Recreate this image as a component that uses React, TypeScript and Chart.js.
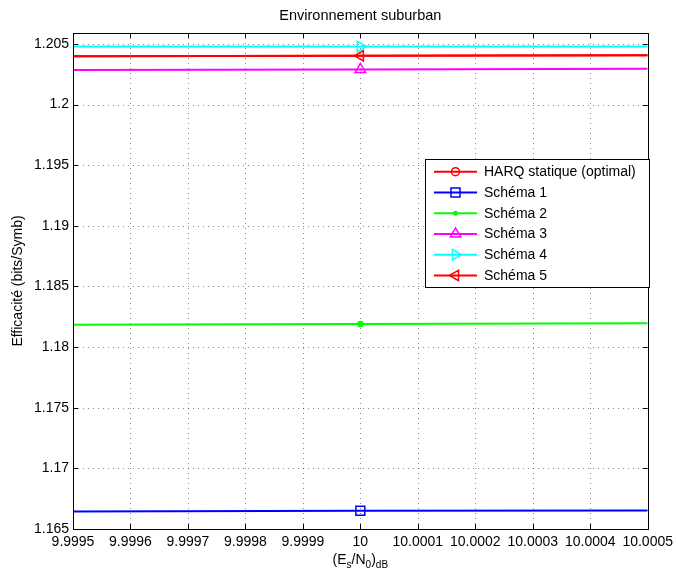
import React, { useEffect, useRef } from 'react';
import { Chart, registerables } from 'chart.js';

Chart.register(...registerables);

// ---- data ----
const xPoints = [9.9995, 10, 10.0005];
const xTicks = [9.9995, 9.9996, 9.9997, 9.9998, 9.9999, 10, 10.0001, 10.0002, 10.0003, 10.0004, 10.0005];
const xTickLabels = ['9.9995', '9.9996', '9.9997', '9.9998', '9.9999', '10', '10.0001', '10.0002', '10.0003', '10.0004', '10.0005'];
const yTicks = [1.165, 1.17, 1.175, 1.18, 1.185, 1.19, 1.195, 1.2, 1.205];
const yTickLabels = ['1.165', '1.17', '1.175', '1.18', '1.185', '1.19', '1.195', '1.2', '1.205'];

const harqStatique = [1.20398, 1.20402, 1.20406];
const schema1 = [1.16645, 1.1665, 1.16653];
const schema2 = [1.18185, 1.1819, 1.18196];
const schema3 = [1.20285, 1.2029, 1.20296];
const schema4 = [1.20478, 1.20478, 1.20479];
const schema5 = [1.20398, 1.20402, 1.20406];

const seriesNames = ['HARQ statique (optimal)', 'Schéma 1', 'Schéma 2', 'Schéma 3', 'Schéma 4', 'Schéma 5'];
const seriesColors = ['#ff0000', '#0000ff', '#00ff00', '#ff00ff', '#00ffff', '#ff0000'];
const seriesMarkers = ['circle', 'square', 'dot', 'triUp', 'triRight', 'triLeft'];
const seriesValues = [harqStatique, schema1, schema2, schema3, schema4, schema5];
const showMarkerInPlot = [false, true, true, true, true, true];

const titleText = 'Environnement suburban';
const yTitleText = 'Efficacité (bits/Symb)';

const FONT = '"Liberation Sans", Arial, Helvetica, sans-serif';

function drawMarker(ctx: CanvasRenderingContext2D, kind: string, x: number, y: number, color: string) {
  ctx.save();
  ctx.strokeStyle = color;
  ctx.fillStyle = color;
  ctx.lineWidth = 1.5;
  ctx.setLineDash([]);
  ctx.beginPath();
  if (kind === 'circle') {
    ctx.arc(x, y, 4, 0, Math.PI * 2);
    ctx.stroke();
  } else if (kind === 'square') {
    ctx.rect(x - 4.5, y - 4.5, 9, 9);
    ctx.stroke();
  } else if (kind === 'dot') {
    ctx.arc(x, y, 2.5, 0, Math.PI * 2);
    ctx.fill();
  } else {
    const r = 6;
    let rot = 0;
    if (kind === 'triRight') rot = Math.PI / 2;
    if (kind === 'triLeft') rot = -Math.PI / 2;
    for (let i = 0; i < 3; i++) {
      const a = rot + (i * 2 * Math.PI) / 3;
      const px = x + Math.sin(a) * r;
      const py = y - Math.cos(a) * r;
      if (i === 0) ctx.moveTo(px, py);
      else ctx.lineTo(px, py);
    }
    ctx.closePath();
    ctx.stroke();
  }
  ctx.restore();
}

const matlabPlugin = {
  id: 'matlabLook',
  beforeDraw(chart: any) {
    const ctx = chart.ctx;
    ctx.save();
    ctx.fillStyle = '#ffffff';
    ctx.fillRect(0, 0, chart.width, chart.height);
    ctx.restore();
  },
  beforeDatasetsDraw(chart: any) {
    const { ctx, chartArea: a, scales } = chart;
    const xs = scales.x;
    const ys = scales.y;
    ctx.save();
    ctx.strokeStyle = 'rgba(0,0,0,0.45)';
    ctx.lineWidth = 1;
    ctx.setLineDash([1, 4]);
    ctx.beginPath();
    xTicks.forEach((v) => {
      const px = Math.round(xs.getPixelForValue(v)) + 0.5;
      if (px < a.left + 2 || px > a.right - 2) return;
      ctx.moveTo(px, a.top);
      ctx.lineTo(px, a.bottom);
    });
    yTicks.forEach((v) => {
      const py = Math.round(ys.getPixelForValue(v)) + 0.5;
      if (py < a.top + 2 || py > a.bottom - 2) return;
      ctx.moveTo(a.left, py);
      ctx.lineTo(a.right, py);
    });
    ctx.stroke();
    ctx.restore();
  },
  afterDatasetsDraw(chart: any) {
    const { ctx, chartArea: a, scales } = chart;
    const xs = scales.x;
    const ys = scales.y;
    ctx.save();
    ctx.setLineDash([]);
    // tick marks (inside)
    ctx.strokeStyle = '#000';
    ctx.lineWidth = 1;
    ctx.beginPath();
    const tl = 5;
    xTicks.forEach((v) => {
      const px = Math.round(xs.getPixelForValue(v)) + 0.5;
      ctx.moveTo(px, a.bottom);
      ctx.lineTo(px, a.bottom - tl);
      ctx.moveTo(px, a.top);
      ctx.lineTo(px, a.top + tl);
    });
    yTicks.forEach((v) => {
      const py = Math.round(ys.getPixelForValue(v)) + 0.5;
      ctx.moveTo(a.left, py);
      ctx.lineTo(a.left + tl, py);
      ctx.moveTo(a.right, py);
      ctx.lineTo(a.right - tl, py);
    });
    ctx.stroke();
    // axes box
    ctx.lineWidth = 1;
    ctx.strokeRect(Math.round(a.left) + 0.5, Math.round(a.top) + 0.5, Math.round(a.right - a.left), Math.round(a.bottom - a.top));

    // title
    ctx.fillStyle = '#000';
    ctx.font = `14.5px ${FONT}`;
    ctx.textAlign = 'center';
    ctx.textBaseline = 'middle';
    ctx.fillText(titleText, (a.left + a.right) / 2, 16);

    // y title
    ctx.font = `14px ${FONT}`;
    ctx.save();
    ctx.translate(18, (a.top + a.bottom) / 2);
    ctx.rotate(-Math.PI / 2);
    ctx.textAlign = 'center';
    ctx.textBaseline = 'middle';
    ctx.fillText(yTitleText, 0, 0);
    ctx.restore();

    // x title with subscripts
    const parts = [
      { t: '(E', sub: false },
      { t: 's', sub: true },
      { t: '/N', sub: false },
      { t: '0', sub: true },
      { t: ')', sub: false },
      { t: 'dB', sub: true },
    ];
    const mainFont = `14px ${FONT}`;
    const subFont = `10px ${FONT}`;
    let total = 0;
    parts.forEach((p) => {
      ctx.font = p.sub ? subFont : mainFont;
      total += ctx.measureText(p.t).width;
    });
    let cx = (a.left + a.right) / 2 - total / 2;
    const baseline = 564;
    ctx.textAlign = 'left';
    ctx.textBaseline = 'alphabetic';
    parts.forEach((p) => {
      ctx.font = p.sub ? subFont : mainFont;
      ctx.fillText(p.t, cx, p.sub ? baseline + 4 : baseline);
      cx += ctx.measureText(p.t).width;
    });

    // legend
    const lx = 425.5;
    const ly = 159.5;
    const lw = 224;
    const lh = 128;
    ctx.fillStyle = '#fff';
    ctx.fillRect(lx, ly, lw, lh);
    ctx.strokeStyle = '#000';
    ctx.lineWidth = 1;
    ctx.strokeRect(lx, ly, lw, lh);
    ctx.font = `14px ${FONT}`;
    ctx.textBaseline = 'middle';
    ctx.textAlign = 'left';
    seriesNames.forEach((name, i) => {
      const ry = 171.7 + i * 20.75;
      ctx.strokeStyle = seriesColors[i];
      ctx.lineWidth = 2;
      ctx.beginPath();
      ctx.moveTo(434, ry);
      ctx.lineTo(477, ry);
      ctx.stroke();
      drawMarker(ctx, seriesMarkers[i], 455.5, ry, seriesColors[i]);
      ctx.fillStyle = '#000';
      ctx.fillText(name, 484, ry + 0.5);
    });
    ctx.restore();
  },
};

const pointStyleFor = (m: string) => {
  if (m === 'square') return { pointStyle: 'rect', rotation: 0, radius: 6.3 };
  if (m === 'dot') return { pointStyle: 'circle', rotation: 0, radius: 2.5 };
  if (m === 'triUp') return { pointStyle: 'triangle', rotation: 0, radius: 6 };
  if (m === 'triRight') return { pointStyle: 'triangle', rotation: 90, radius: 6 };
  if (m === 'triLeft') return { pointStyle: 'triangle', rotation: -90, radius: 6 };
  return { pointStyle: 'circle', rotation: 0, radius: 4 };
};

export default function App() {
  const canvasRef = useRef<HTMLCanvasElement | null>(null);

  useEffect(() => {
    if (!canvasRef.current) return;
    const datasets = seriesNames.map((name, i) => {
      const ps = pointStyleFor(seriesMarkers[i]);
      const filled = seriesMarkers[i] === 'dot';
      return {
        label: name,
        data: xPoints.map((x, k) => ({ x, y: seriesValues[i][k] })),
        borderColor: seriesColors[i],
        backgroundColor: seriesColors[i],
        borderWidth: 2,
        pointStyle: ps.pointStyle,
        pointRotation: ps.rotation,
        pointRadius: xPoints.map((_, k) => (k === 1 && showMarkerInPlot[i] ? ps.radius : 0)),
        pointHoverRadius: 0,
        pointBorderWidth: 1.5,
        pointBorderColor: seriesColors[i],
        pointBackgroundColor: filled ? seriesColors[i] : 'rgba(0,0,0,0)',
        tension: 0,
        fill: false,
        order: seriesNames.length - i,
      };
    });

    const chart = new Chart(canvasRef.current, {
      type: 'line',
      data: { datasets },
      plugins: [matlabPlugin],
      options: {
        animation: false,
        responsive: false,
        maintainAspectRatio: false,
        devicePixelRatio: 1,
        layout: { padding: { top: 33, right: 28, left: 0, bottom: 0 } },
        plugins: {
          legend: { display: false },
          title: { display: false },
          tooltip: { enabled: false },
        },
        scales: {
          x: {
            type: 'linear',
            min: 9.9995,
            max: 10.0005,
            afterBuildTicks: (s: any) => {
              s.ticks = xTicks.map((v) => ({ value: v }));
            },
            afterFit: (s: any) => {
              s.height = 45;
            },
            grid: { display: false, drawTicks: false },
            border: { display: false },
            ticks: {
              autoSkip: false,
              maxRotation: 0,
              minRotation: 0,
              padding: 5,
              color: '#000',
              font: { family: FONT, size: 14 },
              callback: (_v: any, i: number) => xTickLabels[i],
            },
          },
          y: {
            type: 'linear',
            min: 1.165,
            max: 1.2059,
            afterBuildTicks: (s: any) => {
              s.ticks = yTicks.map((v) => ({ value: v }));
            },
            afterFit: (s: any) => {
              s.width = 73;
            },
            grid: { display: false, drawTicks: false },
            border: { display: false },
            ticks: {
              autoSkip: false,
              padding: 4,
              color: '#000',
              font: { family: FONT, size: 14 },
              callback: (_v: any, i: number) => yTickLabels[i],
            },
          },
        },
      } as any,
    });
    return () => chart.destroy();
  }, []);

  return (
    <div style={{ position: 'absolute', left: 0, top: 0, width: 678, height: 574, background: '#fff' }}>
      <canvas ref={canvasRef} width={678} height={574} style={{ display: 'block', width: 678, height: 574 }} />
    </div>
  );
}
